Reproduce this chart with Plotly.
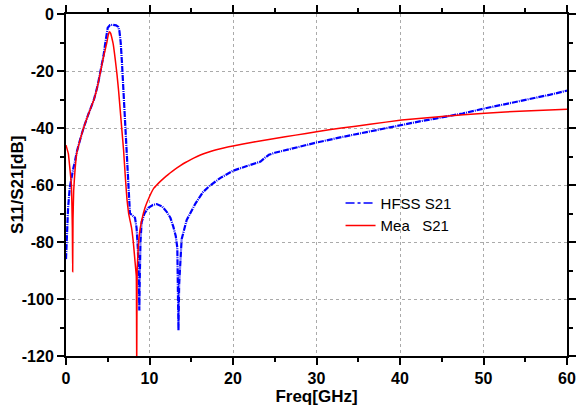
import plotly.graph_objects as go

# Mea S21 (red)
mea_f = [0, 0.28, 0.48, 0.65, 0.76, 0.8, 0.84, 0.92, 1.05, 1.28, 1.7, 2.1, 2.7, 3.35, 3.8, 4.15, 4.5, 4.87,
         5.05, 5.2, 5.35, 5.5, 5.65, 5.9, 6.1, 6.3, 6.5, 6.7, 6.9, 7.1, 7.3, 7.5, 7.66, 7.85, 8.06, 8.3,
         8.42, 8.47, 8.52, 8.65, 8.8, 9.06, 9.46, 9.86, 10.5, 11.0, 11.46, 12.0, 12.46, 13.0, 13.65, 14.3, 15,
         15.7, 16.4, 17.2, 18, 19, 20, 21.2, 22.5, 25, 27.5, 30, 33, 36.4, 40.2, 45, 50.2, 55, 60]
mea_db = [-46, -49, -54.7, -60, -75, -90.4, -72, -62, -56, -49, -44, -40, -35, -30, -25, -20, -15, -10.3,
          -7.5, -6.2, -6.8, -8.5, -10.5, -16, -21, -27, -34, -41, -48, -57, -65, -70, -72.3, -75, -80, -88,
          -92, -125, -90, -82, -77, -72.5, -68, -65, -61.2, -59.6, -58.3, -56.9, -55.8, -54.6, -53.3, -52.1, -51.0,
          -50.0, -49.1, -48.3, -47.6, -46.9, -46.3, -45.6, -44.9, -43.7, -42.5, -41.3, -40, -38.7, -37.2, -36, -34.8, -34, -33.4]

# HFSS S21 (blue)
hfss_f = [0, 0.1, 0.25, 0.45, 0.65, 0.85, 1.05, 1.28, 1.7, 2.1, 2.7, 3.35, 3.8, 4.15, 4.5, 4.7, 4.87, 5.0,
          5.27, 5.6, 6.0, 6.26, 6.4, 6.55, 6.7, 6.85, 7.0, 7.1, 7.25, 7.4, 7.55, 7.66, 7.9, 8.1, 8.26, 8.45,
          8.6, 8.72, 8.78, 8.84, 8.92, 9.06, 9.4, 9.86, 10.4, 10.86, 11.5, 12.06, 12.5, 12.85, 13.15, 13.33,
          13.42, 13.47, 13.55, 13.7, 13.85, 14.45, 14.85, 15.5, 16.4, 17.2, 18.5, 20, 21.5, 22.5, 23.3, 23.8,
          24.3, 25, 27.5, 30, 33, 35.2, 37.5, 40.2, 42.5, 44.4, 47.5, 50.2, 53, 55.2, 55.7, 56.2, 58, 60]
hfss_db = [-86, -78, -68, -61, -57, -54.5, -52, -48.5, -44, -40, -35, -30, -25, -20, -14.5, -10.3, -6.5, -4.8,
           -3.9, -3.8, -4.0, -4.5, -6, -10, -17, -25, -34, -40, -48, -56, -64, -70, -70.5, -71, -71.5, -75,
           -82, -93, -104, -92, -80, -73, -70, -68, -67, -66.7, -67.5, -69.4, -71.5, -74.6, -78, -82,
           -95, -111, -95, -84, -79, -72.3, -70, -66.5, -62.5, -60.3, -57.5, -55, -53.5, -52.5, -51.8, -50.5,
           -49.4, -48.7, -46.8, -45.1, -43.2, -41.9, -40.4, -38.9, -37.6, -36.6, -34.9, -33.1, -31.4, -30.0,
           -29.6, -29.5, -28.3, -26.9]

x_ticks = [0, 10, 20, 30, 40, 50, 60]
y_ticks = [0, -20, -40, -60, -80, -100, -120]

FONT = "Liberation Sans, Arial, sans-serif"

fig = go.Figure()
fig.add_trace(go.Scatter(x=hfss_f, y=hfss_db, mode="lines", showlegend=False,
                         line=dict(color="#0000ff", width=2.2, dash="6px,1px,1px,1px")))
fig.add_trace(go.Scatter(x=mea_f, y=mea_db, mode="lines", showlegend=False,
                         line=dict(color="#ff0000", width=1.5, shape="spline", smoothing=0.3)))
# legend entries
fig.add_trace(go.Scatter(x=[None], y=[None], mode="lines", name="HFSS S21",
                         line=dict(color="#0000ff", width=1.5, dash="dashdot")))
fig.add_trace(go.Scatter(x=[None], y=[None], mode="lines", name="Mea   S21",
                         line=dict(color="#ff0000", width=1.5)))

axis_common = dict(
    showline=True, linecolor="black", linewidth=2, mirror="allticks",
    ticks="outside", ticklen=7, tickwidth=1.5, tickcolor="black",
    showgrid=True, gridcolor="#aaaaaa", griddash="dot", gridwidth=1,
    zeroline=False, automargin=False,
    tickfont=dict(family=FONT, size=16, color="black"),
)

fig.update_xaxes(range=[0, 60], tickvals=x_ticks, ticktext=[f"<b>{v}</b>" for v in x_ticks],
                 minor=dict(dtick=5, ticklen=4, tickcolor="black", tickwidth=1.5, ticks="outside", showgrid=False),
                 title=dict(text="<b>Freq[GHz]</b>", font=dict(family=FONT, size=17, color="black"),
                            standoff=0),
                 **axis_common)
fig.update_yaxes(range=[-120, 0], tickvals=y_ticks, ticktext=[f"<b>{v}</b>" for v in y_ticks],
                 minor=dict(dtick=10, ticklen=4, tickcolor="black", tickwidth=1.5, ticks="outside", showgrid=False),
                 **axis_common)

fig.add_annotation(text="<b>S11/S21[dB]</b>", xref="paper", yref="paper",
                   x=-0.098, y=0.5, xanchor="center", yanchor="middle", textangle=-90,
                   showarrow=False, font=dict(family=FONT, size=17, color="black"))

fig.update_layout(
    width=577, height=408,
    margin=dict(l=66, r=10, t=14, b=52),
    plot_bgcolor="white", paper_bgcolor="white",
    legend=dict(x=0.548, y=0.495, xanchor="left", yanchor="top", bgcolor="rgba(0,0,0,0)",
                font=dict(family=FONT, size=15, color="black"), itemwidth=30, tracegroupgap=0),
)

fig.write_html("out.html")
